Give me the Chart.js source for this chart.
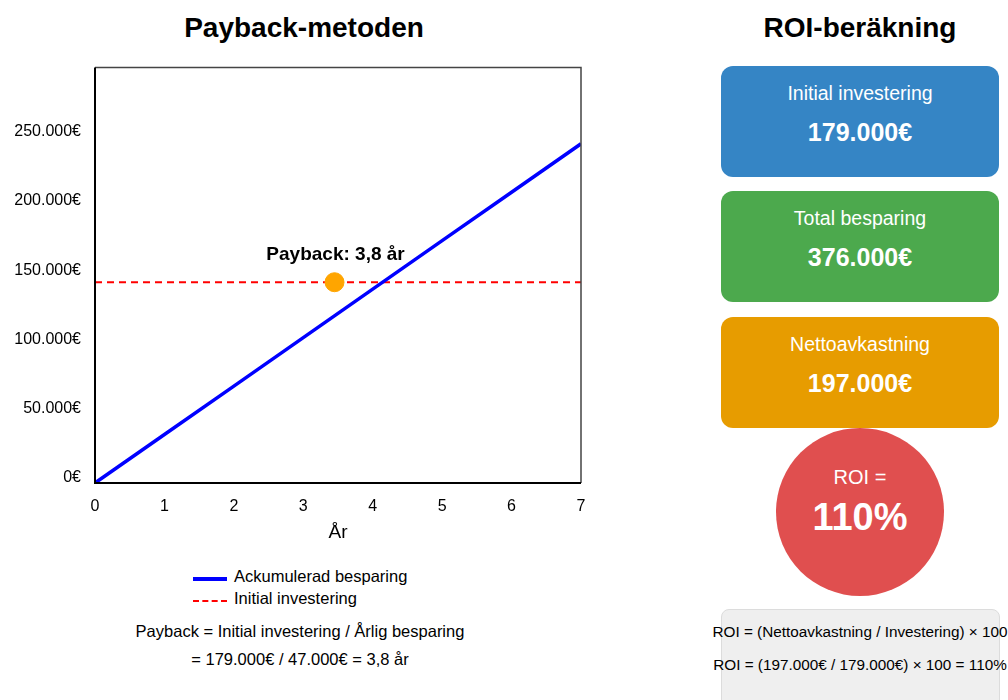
<!DOCTYPE html>
<html>
<head>
<meta charset="utf-8">
<script src="https://cdn.jsdelivr.net/npm/chart.js@4.4.1/dist/chart.umd.min.js"></script>
<style>
  body { margin: 0; width: 1008px; height: 700px; overflow: hidden; background: #fff;
         font-family: "Liberation Sans", Arial, sans-serif; position: relative; }
  .title { position: absolute; top: 12px; font-weight: bold; font-size: 28px; color: #000; text-align: center; }
  #wrap { position: absolute; left: 0; top: 44px; width: 600px; height: 504px; }
  .legend { position: absolute; left: 193px; font-size: 16.5px; color: #000; }
  .legend span.s { position: absolute; left: 0; width: 34px; }
  .legend span.t { position: absolute; left: 41px; top: -10px; white-space: nowrap; }
  .formula { position: absolute; font-size: 16.5px; color: #000; white-space: nowrap; text-align: center; }
  .rformula { position: absolute; font-size: 15.3px; color: #000; white-space: nowrap; text-align: center; }
  .box { position: absolute; left: 721px; width: 278px; height: 111px; border-radius: 12px; color: #fff; text-align: center; }
  .box .l { position: absolute; left: 0; right: 0; top: 16px; font-size: 19.5px; }
  .box .v { position: absolute; left: 0; right: 0; top: 52px; font-size: 25px; font-weight: bold; }
  .circle { position: absolute; left: 776px; top: 428px; width: 168px; height: 168px; border-radius: 50%;
            background: #e04f4f; color: #fff; text-align: center; }
  .gray { position: absolute; left: 721px; top: 609px; width: 277px; height: 110px; background: #efefef;
          border: 1px solid #dcdcdc; border-radius: 8px; }
</style>
</head>
<body>
<div class="title" style="left:104px;width:400px;">Payback-metoden</div>
<div class="title" style="left:710px;width:300px;">ROI-beräkning</div>

<div id="wrap"><canvas id="chart"></canvas></div>

<div class="legend" style="top:577px;"><span class="s" style="top:0px;border-top:4px solid #0000ff;"></span><span class="t">Ackumulerad besparing</span></div>
<div class="legend" style="top:599px;"><span class="s" style="top:1px;border-top:2px dashed #ff0000;"></span><span class="t">Initial investering</span></div>

<div class="formula" style="left:100px;width:400px;top:622px;">Payback = Initial investering / Årlig besparing</div>
<div class="formula" style="left:100px;width:400px;top:650px;">= 179.000€ / 47.000€ = 3,8 år</div>

<div class="box" style="top:66px;background:#3585c5;"><div class="l">Initial investering</div><div class="v">179.000€</div></div>
<div class="box" style="top:191px;background:#4ca94d;"><div class="l">Total besparing</div><div class="v">376.000€</div></div>
<div class="box" style="top:317px;background:#e79c00;"><div class="l">Nettoavkastning</div><div class="v">197.000€</div></div>

<div class="circle">
  <div style="position:absolute;left:0;right:0;top:38px;font-size:20px;">ROI =</div>
  <div style="position:absolute;left:0;right:0;top:68px;font-size:38px;font-weight:bold;">110%</div>
</div>

<div class="gray"></div>
<div class="rformula" style="left:660px;width:400px;top:623px;">ROI = (Nettoavkastning / Investering) × 100</div>
<div class="rformula" style="left:660px;width:400px;top:656px;">ROI = (197.000€ / 179.000€) × 100 = 110%</div>

<script>
const years = [0, 1, 2, 3, 4, 5, 6, 7];
const savings = [0, 35000, 70000, 105000, 140000, 175000, 210000, 245000];
const investLine = [145000, 145000, 145000, 145000, 145000, 145000, 145000, 145000];
const paybackPoint = { x: 3.45, y: 145000 };
const paybackLabel = "Payback: 3,8 år";
const yTicks = [0, 50000, 100000, 150000, 200000, 250000];

const fontFam = "'Liberation Sans', Arial, sans-serif";

function euro(v) {
    return v.toLocaleString("de-DE") + "€";
}

const framePlugin = {
    id: "frame",
    afterDatasetsDraw(chart) {
        const a = chart.chartArea;
        const c = chart.ctx;
        c.save();
        c.strokeStyle = "#444";
        c.lineWidth = 1.5;
        c.beginPath();
        c.moveTo(a.left, a.top);
        c.lineTo(a.right, a.top);
        c.lineTo(a.right, a.bottom);
        c.stroke();
        c.strokeStyle = "#000";
        c.lineWidth = 2;
        c.beginPath();
        c.moveTo(a.left, a.top);
        c.lineTo(a.left, a.bottom);
        c.lineTo(a.right, a.bottom);
        c.stroke();
        // payback label above the point
        const px = chart.scales.x.getPixelForValue(paybackPoint.x);
        const py = chart.scales.y.getPixelForValue(paybackPoint.y);
        c.fillStyle = "#000";
        c.font = "bold 19px " + fontFam;
        c.textAlign = "center";
        c.textBaseline = "middle";
        c.fillText(paybackLabel, px + 1, py - 27);
        c.restore();
    }
};

new Chart(document.getElementById("chart"), {
    type: "line",
    data: {
        labels: years,
        datasets: [
            {
                label: "Ackumulerad besparing",
                data: years.map((y, i) => ({ x: y, y: savings[i] })),
                borderColor: "#0000ff",
                borderWidth: 3.5,
                pointRadius: 0,
                tension: 0,
                order: 2
            },
            {
                label: "Initial investering",
                data: years.map((y, i) => ({ x: y, y: investLine[i] })),
                borderColor: "#ff0000",
                borderWidth: 2,
                borderDash: [7, 5],
                pointRadius: 0,
                order: 3
            },
            {
                label: "Payback",
                data: [paybackPoint],
                showLine: false,
                pointRadius: 9.5,
                pointBackgroundColor: "#ffa500",
                pointBorderColor: "#ffa500",
                order: 1
            }
        ]
    },
    plugins: [framePlugin],
    options: {
        responsive: true,
        maintainAspectRatio: false,
        animation: false,
        layout: { padding: { top: 0, right: 19, left: 0, bottom: 0 } },
        plugins: { legend: { display: false }, tooltip: { enabled: false } },
        scales: {
            x: {
                type: "linear",
                min: 0,
                max: 7,
                grid: { display: false, drawTicks: false },
                border: { display: false },
                ticks: {
                    stepSize: 1,
                    padding: 14,
                    color: "#000",
                    font: { size: 16, family: fontFam }
                },
                title: {
                    display: true,
                    text: "År",
                    color: "#000",
                    padding: { top: 4 },
                    font: { size: 19, family: fontFam }
                },
                afterFit(s) { s.height = 65; }
            },
            y: {
                min: 0,
                max: 300000,
                grid: { display: false, drawTicks: false },
                border: { display: false },
                afterBuildTicks(s) { s.ticks = yTicks.map(v => ({ value: v })); },
                ticks: {
                    padding: 14,
                    labelOffset: -5,
                    color: "#000",
                    font: { size: 16, family: fontFam },
                    callback: v => euro(v)
                },
                afterFit(s) { s.width = 95; }
            }
        }
    }
});
</script>
</body>
</html>
